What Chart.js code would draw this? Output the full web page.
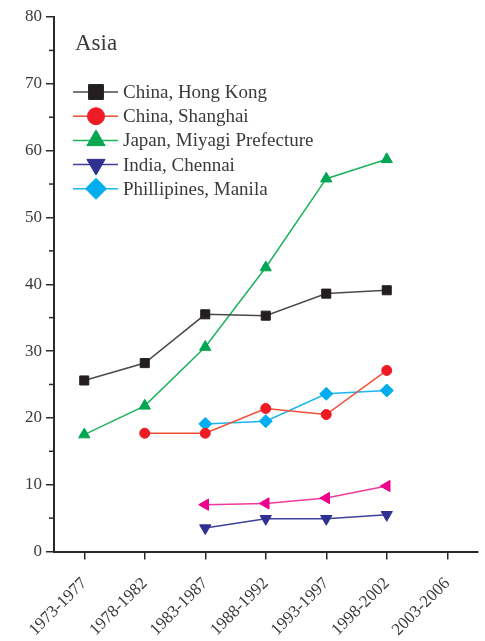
<!DOCTYPE html>
<html>
<head>
<meta charset="utf-8">
<script src="https://cdn.jsdelivr.net/npm/chart.js@4/dist/chart.umd.min.js"></script>
<style>
  html, body { margin: 0; padding: 0; background: #fff; }
  #wrap { width: 485px; height: 641px; }
</style>
</head>
<body>
<div id="wrap"><canvas id="myChart" width="485" height="641"></canvas></div>
<script>
// periods on the x axis
const periods = ["1973-1977", "1978-1982", "1983-1987", "1988-1992", "1993-1997", "1998-2002", "2003-2006"];

// series values
const hongKong = [25.6, 28.2, 35.5, 35.3, 38.6, 39.1, null];
const shanghai = [null, 17.7, 17.7, 21.4, 20.5, 27.1, null];
const miyagi = [17.5, 21.8, 30.6, 42.5, 55.8, 58.7, null];
const chennai = [null, null, 3.5, 4.9, 4.9, 5.5, null];
const manila = [null, null, 19.1, 19.5, 23.6, 24.1, null];
const unlabeled = [null, null, 7.0, 7.2, 8.0, 9.8, null];

const legendTitle = "Asia";
const yTicks = [0, 10, 20, 30, 40, 50, 60, 70, 80];

const serif = "'Liberation Serif', 'DejaVu Serif', serif";
const textColor = "#3a3a3a";
const axisColor = "#2a2a2a";

function series(label, data, color, lineColor, style, rot, r, inLegend) {
  return {
    label: label,
    data: data,
    borderColor: lineColor,
    backgroundColor: color,
    pointBackgroundColor: color,
    pointBorderColor: color,
    pointStyle: style,
    rotation: rot,
    pointRadius: r,
    borderWidth: 1.5,
    pointBorderWidth: 1,
    spanGaps: false,
    showInLegend: inLegend,
  };
}

// legend drawn inside the plot, like the original
const insideLegend = {
  id: "insideLegend",
  afterDraw(chart) {
    const ctx = chart.ctx;
    ctx.save();
    ctx.fillStyle = textColor;
    ctx.font = "23px " + serif;
    ctx.textBaseline = "middle";
    ctx.textAlign = "left";
    ctx.fillText(legendTitle, 75, 44);
    let y = 92;
    chart.data.datasets.forEach((ds) => {
      if (!ds.showInLegend) return;
      ctx.strokeStyle = ds.borderColor;
      ctx.lineWidth = 1.5;
      ctx.beginPath();
      ctx.moveTo(73, y);
      ctx.lineTo(118, y);
      ctx.stroke();
      ctx.fillStyle = ds.pointBackgroundColor;
      ctx.strokeStyle = ds.pointBorderColor;
      ctx.lineWidth = 1;
      Chart.helpers.drawPoint(ctx, {
        pointStyle: ds.pointStyle,
        rotation: ds.rotation,
        radius: ds.pointStyle === "circle" ? 8.5 : 10.5,
        borderWidth: 1,
      }, 96, y);
      ctx.fillStyle = textColor;
      ctx.font = "19px " + serif;
      ctx.fillText(ds.label, 123, y + 1);
      y += 24.2;
    });
    ctx.restore();
  },
};

// small unlabeled ticks between the y labels
const minorTicks = {
  id: "minorTicks",
  afterDraw(chart) {
    const ctx = chart.ctx;
    const ys = chart.scales.y;
    ctx.save();
    ctx.strokeStyle = axisColor;
    ctx.lineWidth = 1.5;
    for (let v = 5; v < 80; v += 10) {
      const py = ys.getPixelForValue(v);
      ctx.beginPath();
      ctx.moveTo(ys.right - 5, py);
      ctx.lineTo(ys.right, py);
      ctx.stroke();
    }
    ctx.restore();
  },
};

const config = {
  type: "line",
  data: {
    labels: periods,
    datasets: [
      series("China, Hong Kong", hongKong, "#231f20", "#4a4a4a", "rect", 0, 6.4, true),
      series("China, Shanghai", shanghai, "#ed1c24", "#f04e37", "circle", 0, 5, true),
      series("Japan, Miyagi Prefecture", miyagi, "#00a651", "#1db35c", "triangle", 0, 6.5, true),
      series("India, Chennai", chennai, "#2e3192", "#3f3f9c", "triangle", 180, 6.5, true),
      series("Phillipines, Manila", manila, "#00aeef", "#1cb5f0", "rectRot", 0, 6.5, true),
      series("", unlabeled, "#ec008c", "#ee3a9e", "triangle", 270, 6.5, false),
    ],
  },
  options: {
    responsive: false,
    animation: false,
    layout: { padding: { top: 17, right: 7, left: 0, bottom: 0 } },
    plugins: {
      legend: { display: false },
      tooltip: { enabled: false },
    },
    scales: {
      x: {
        type: "category",
        offset: true,
        grid: {
          display: true,
          drawOnChartArea: false,
          offset: false,
          tickLength: 8,
          tickColor: axisColor,
          lineWidth: 1.5,
        },
        border: { color: axisColor, width: 2 },
        ticks: {
          color: textColor,
          font: { family: serif, size: 17 },
          maxRotation: 45,
          minRotation: 45,
          padding: 14,
        },
        afterFit(scale) { scale.height = 89.5; },
      },
      y: {
        min: 0,
        max: 80,
        afterBuildTicks(scale) { scale.ticks = yTicks.map((v) => ({ value: v })); },
        grid: {
          display: true,
          drawOnChartArea: false,
          tickLength: 8,
          tickColor: axisColor,
          lineWidth: 1.5,
        },
        border: { color: axisColor, width: 2 },
        ticks: {
          color: textColor,
          font: { family: serif, size: 17 },
          padding: 4,
        },
        afterFit(scale) { scale.width = 54; },
      },
    },
  },
  plugins: [insideLegend, minorTicks],
};

var myChart = new Chart(document.getElementById("myChart"), config);
</script>
</body>
</html>
